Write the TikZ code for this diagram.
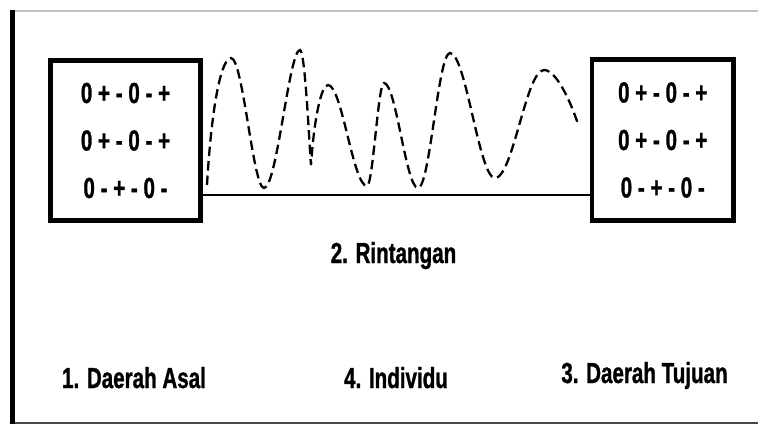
\documentclass[tikz,border=0pt]{standalone}
\usepackage{fontspec}
\newfontfamily\narrowsans[FakeStretch=0.71,FakeBold=1]{Liberation Sans}
\usetikzlibrary{positioning}

\tikzset{
  regionbox/.style={draw, line width=4.5pt, inner sep=0pt, align=center,
    font=\narrowsans\bfseries\fontsize{29}{47.5}\selectfont},
  lbl/.style={anchor=base, inner sep=0pt, font=\narrowsans\bfseries\fontsize{29}{35}\selectfont},
  wave/.style={line width=2.3pt, dash pattern={on 9.5pt off 5pt}},
  groundline/.style={line width=2pt},
}

\begin{document}
\begin{tikzpicture}[x=1pt,y=1pt,yscale=-1,xscale=1]
	\useasboundingbox (0,0) rectangle (758,426);
	
	%Frame
	\draw [color={rgb, 255:red, 192; green, 192; blue, 192 }, line width=1.5] (15,11) -- (758,11);
	\draw [color={rgb, 255:red, 70; green, 70; blue, 70 }, line width=1.5] (12.5,423) -- (758,423);
	\draw [line width=5] (12.5,10) -- (12.5,424);
	
	%Shape: Rectangle (origin)
	\node [regionbox, minimum width=150, minimum height=160] (asalbox) at (125.5,140.5)
		{0 + - 0 - +\\0 + - 0 - +\\0 - + - 0 -};
	%Shape: Rectangle (destination)
	\node [regionbox, minimum width=141.5, minimum height=161] (tujuanbox) at (662.75,140)
		{0 + - 0 - +\\0 + - 0 - +\\0 - + - 0 -};
	
	%Straight Lines
	\coordinate (ground) at (0,195);
	\draw [groundline] (asalbox.east |- ground) -- (tujuanbox.west |- ground);
	
	%Curve: obstacle wave
	\draw [wave] (207,185) .. controls (212,100) and (222,58) .. (231,58)
		.. controls (243,58) and (253,188) .. (264,188)
		.. controls (277,188) and (289,50) .. (300,50)
		.. controls (305,50) and (309,140) .. (311,165)
		.. controls (314,120) and (321,85) .. (328,85)
		.. controls (342,85) and (353,186) .. (367,186)
		.. controls (373,186) and (378,83) .. (384,83)
		.. controls (396,83) and (406,188) .. (418,188)
		.. controls (430,188) and (438,53) .. (450,53)
		.. controls (466,53) and (479,178) .. (495,178)
		.. controls (513,178) and (526,70) .. (544,70)
		.. controls (556,70) and (570,100) .. (578,124);
	
	% Text Node
	\node [lbl] (rintangan) at (393.5,263) {2. Rintangan};
	% Text Node
	\node [lbl] (asal) at (134,388) {1. Daerah Asal};
	% Text Node
	\node [lbl] (individu) at (396,388) {4. Individu};
	% Text Node
	\node [lbl] (tujuan) at (644.5,383) {3. Daerah Tujuan};
	
\end{tikzpicture}
\end{document}
